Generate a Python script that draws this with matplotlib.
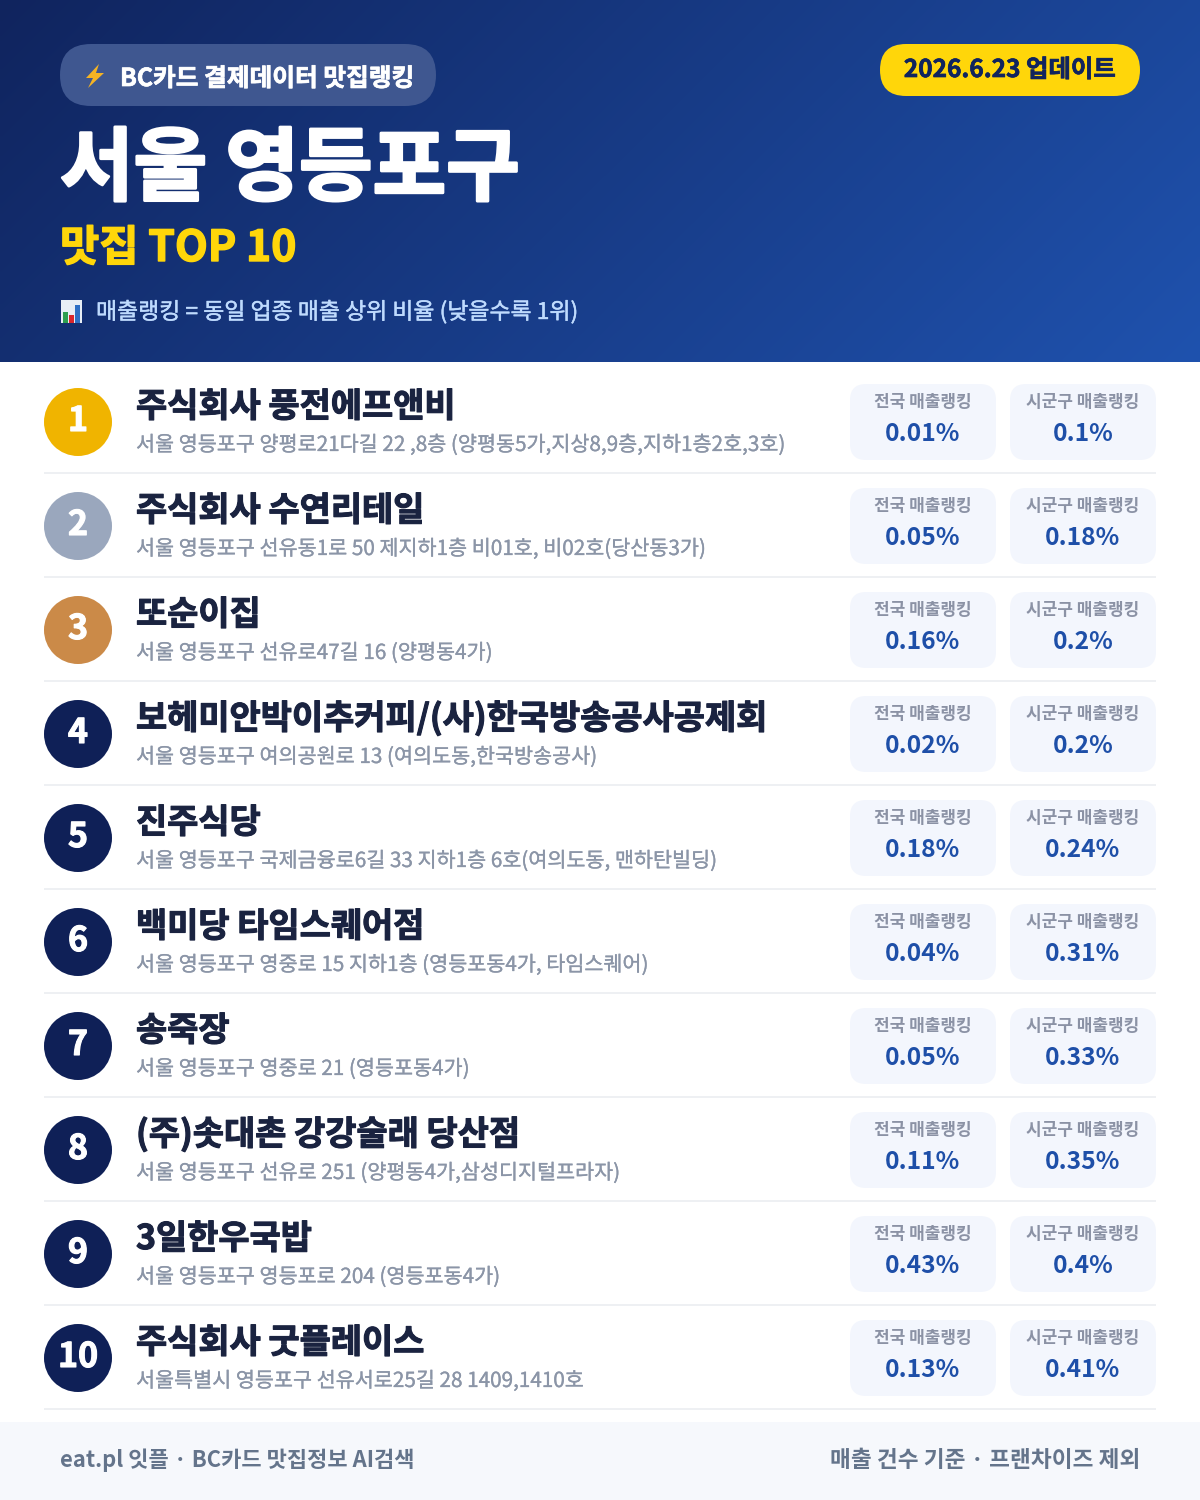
import numpy as np
import matplotlib
matplotlib.use('Agg')
import matplotlib.pyplot as plt
import matplotlib.patheffects as pe
from matplotlib.patches import Circle, FancyBboxPatch, Polygon, Rectangle

plt.rcParams['font.family'] = ['Noto Sans CJK KR', 'DejaVu Sans']

# dane
names = ['주식회사 풍전에프앤비', '주식회사 수연리테일', '또순이집', '보헤미안박이추커피/(사)한국방송공사공제회', '진주식당',
         '백미당 타임스퀘어점', '송죽장', '(주)솟대촌 강강술래 당산점', '3일한우국밥', '주식회사 굿플레이스']
addresses = ['서울 영등포구 양평로21다길 22 ,8층 (양평동5가,지상8,9층,지하1층2호,3호)',
             '서울 영등포구 선유동1로 50 제지하1층 비01호, 비02호(당산동3가)',
             '서울 영등포구 선유로47길 16 (양평동4가)',
             '서울 영등포구 여의공원로 13 (여의도동,한국방송공사)',
             '서울 영등포구 국제금융로6길 33 지하1층 6호(여의도동, 맨하탄빌딩)',
             '서울 영등포구 영중로 15 지하1층 (영등포동4가, 타임스퀘어)',
             '서울 영등포구 영중로 21 (영등포동4가)',
             '서울 영등포구 선유로 251 (양평동4가,삼성디지털프라자)',
             '서울 영등포구 영등포로 204 (영등포동4가)',
             '서울특별시 영등포구 선유서로25길 28 1409,1410호']
national = [0.01, 0.05, 0.16, 0.02, 0.18, 0.04, 0.05, 0.11, 0.43, 0.13]
district = [0.1, 0.18, 0.2, 0.2, 0.24, 0.31, 0.33, 0.35, 0.4, 0.41]
circle_colors = ['#f0b400', '#9aa7bd', '#cb8a48'] + ['#0f2057'] * 7


def px(size):
    # rozmiar czcionki w pikselach -> punkty
    return size * 72 / 100


def heavy(color, lw):
    # pogrubienie tekstu, czcionka nie ma ciezszej wersji niz bold
    return [pe.withStroke(linewidth=lw, foreground=color)]


fig = plt.figure(figsize=(12, 15), dpi=100)
ax = fig.add_axes([0, 0, 1, 1])
ax.set_xlim(0, 1200)
ax.set_ylim(1500, 0)
ax.axis('off')


def box(x, y, w, h, r, color, **kw):
    ax.add_patch(FancyBboxPatch((x, y), w, h, boxstyle=f'round,pad=0,rounding_size={r}',
                                fc=color, ec='none', **kw))


# naglowek z gradientem
gx, gy = np.meshgrid(np.linspace(0, 1, 300), np.linspace(0, 1, 90))
t = (gx * 1200 + gy * 362) / (1200 + 362)
c0 = np.array([0x10, 0x24, 0x5e]) / 255
c1 = np.array([0x1f, 0x52, 0xae]) / 255
grad = c0[None, None, :] + (c1 - c0)[None, None, :] * t[:, :, None]
ax.imshow(grad, extent=(0, 1200, 362, 0), aspect='auto', zorder=0, interpolation='bilinear')
ax.set_xlim(0, 1200)
ax.set_ylim(1500, 0)

box(60, 44, 376, 62, 31, '#3f5790')
ax.add_patch(Polygon([(99, 64), (86, 78), (93, 78), (88, 88), (104, 73), (96, 73)], fc='#f5b324', ec='none'))
ax.text(120, 86, 'BC카드 결제데이터 맛집랭킹', color='white', fontsize=px(24.7), fontweight='bold', va='baseline',
        path_effects=heavy('white', 0.5))

box(880, 44, 260, 52, 26, '#ffd60a')
ax.text(1010, 77, '2026.6.23 업데이트', color='#10245e', fontsize=px(24.4), fontweight='bold', va='baseline', ha='center',
        path_effects=heavy('#10245e', 0.5))

ax.text(60, 194, '서울 영등포구', color='white', fontsize=px(80), fontweight='bold', va='baseline',
        path_effects=heavy('white', 2))
ax.text(60, 261, '맛집 TOP 10', color='#ffd60a', fontsize=px(42.7), fontweight='bold', va='baseline',
        path_effects=heavy('#ffd60a', 1))

ax.add_patch(Rectangle((61, 300), 21, 23, fc='#e8eef5', ec='none'))
for bx, bt, bc in [(63, 312, '#2e9e4f'), (69, 315, '#d9262c'), (75, 305, '#2e6fc4')]:
    ax.add_patch(Rectangle((bx, bt), 5, 323 - bt, fc=bc, ec='none'))
ax.text(96, 319, '매출랭킹 = 동일 업종 매출 상위 비율 (낮을수록 1위)', color='#bfdbfe', fontsize=px(22.9), va='baseline',
        path_effects=heavy('#bfdbfe', 0.3))

# wiersze
for i in range(len(names)):
    top = 362 + 104 * i
    ax.add_patch(Circle((78, top + 60), 34, fc=circle_colors[i], ec='none'))
    ax.text(78, top + 69, str(i + 1), color='white', fontsize=px(34), fontweight='bold', ha='center', va='baseline',
            path_effects=heavy('white', 0.8))
    ax.text(136, top + 55, names[i], color='#1a2340', fontsize=px(33.9), fontweight='bold', va='baseline',
            path_effects=heavy('#1a2340', 0.8))
    ax.text(136, top + 89, addresses[i], color='#8b95a7', fontsize=px(20.7), va='baseline',
            path_effects=heavy('#8b95a7', 0.2))

    box(850, top + 22, 146, 76, 16, '#f3f6fd')
    box(1010, top + 22, 146, 76, 16, '#f3f6fd')
    ax.text(923, top + 45, '전국 매출랭킹', color='#8b92a5', fontsize=px(17), fontweight='bold', ha='center', va='baseline')
    ax.text(1083, top + 45, '시군구 매출랭킹', color='#8b92a5', fontsize=px(17), fontweight='bold', ha='center', va='baseline')
    ax.text(923, top + 79, f'{national[i]:g}%', color='#1e4fa8', fontsize=px(24.6), fontweight='bold', ha='center', va='baseline')
    ax.text(1083, top + 79, f'{district[i]:g}%', color='#1e4fa8', fontsize=px(24.6), fontweight='bold', ha='center', va='baseline')

    ax.add_patch(Rectangle((44, top + 110), 1112, 2, fc='#eef0f3', ec='none'))

# stopka
ax.add_patch(Rectangle((0, 1422), 1200, 78, fc='#f6f8fc', ec='none'))
ax.text(60, 1467, 'eat.pl 잇플 · BC카드 맛집정보 AI검색', color='#64748b', fontsize=px(22), fontweight='bold', va='baseline')
ax.text(1140, 1467, '매출 건수 기준 · 프랜차이즈 제외', color='#64748b', fontsize=px(22.65), fontweight='bold', ha='right', va='baseline')

fig.savefig('out.png', dpi=100)
